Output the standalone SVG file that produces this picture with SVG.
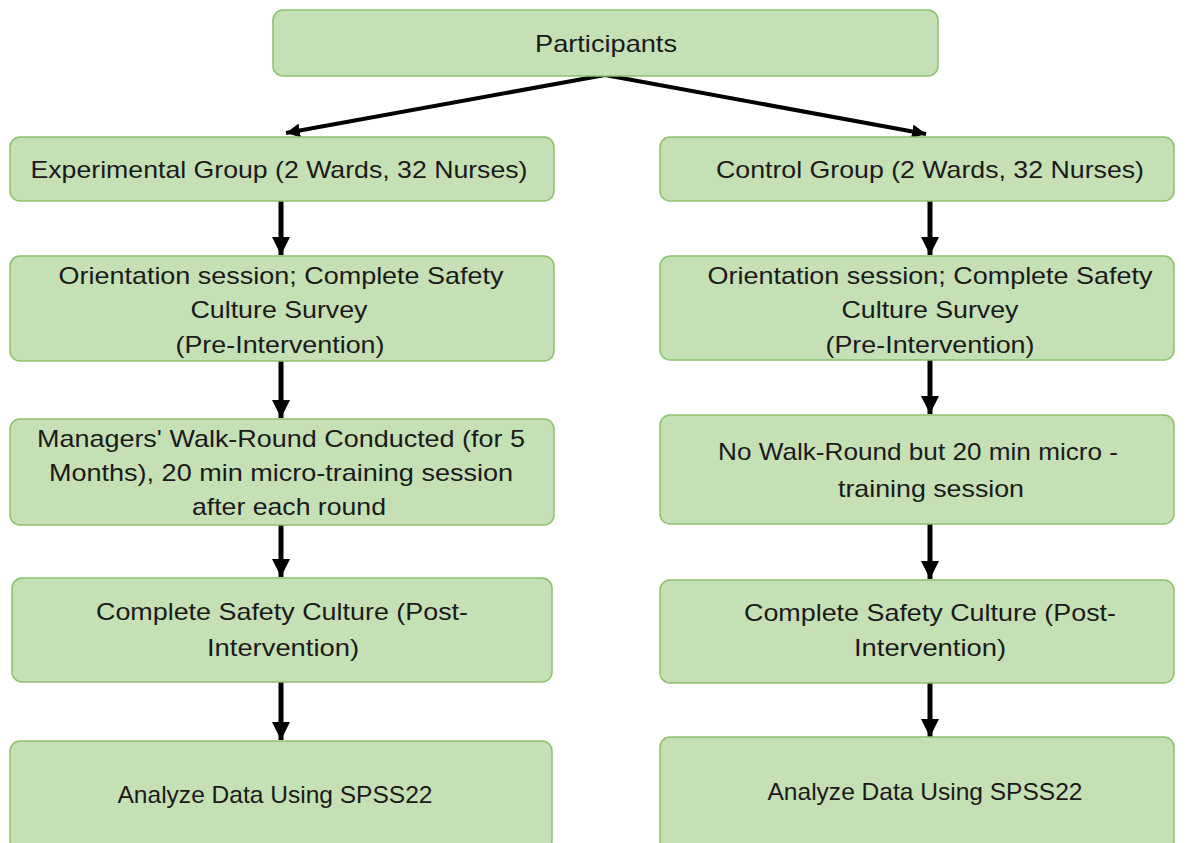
<svg xmlns="http://www.w3.org/2000/svg" width="1201" height="843" viewBox="0 0 1201 843">
<style>
.box{fill:#c5e0b4;stroke:#8cc06c;stroke-width:1.5}
.t{font-family:"Liberation Sans",Arial,sans-serif;font-size:24px;fill:#1a1a1a;text-anchor:middle}
.c{stroke:#000;stroke-width:5;fill:none}
.d{stroke:#000;stroke-width:4;fill:none}
</style>
<defs>
<marker id="ah" markerUnits="userSpaceOnUse" markerWidth="20" markerHeight="18" refX="18" refY="9" orient="auto">
<path d="M0,0 L18,9 L0,18 Z" fill="#000"/>
</marker>
<marker id="ah2" markerUnits="userSpaceOnUse" markerWidth="16" markerHeight="14" refX="14" refY="7" orient="auto">
<path d="M0,0 L14,7 L0,14 Z" fill="#000"/>
</marker>
</defs>
<rect width="1201" height="843" fill="#fff"/>
<g id="connectors">
<line class="d" x1="605" y1="75" x2="286" y2="133" marker-end="url(#ah2)"/>
<line class="d" x1="605" y1="75" x2="926" y2="134" marker-end="url(#ah2)"/>
<line class="c" x1="281" y1="201" x2="281" y2="255" marker-end="url(#ah)"/>
<line class="c" x1="930" y1="201" x2="930" y2="255" marker-end="url(#ah)"/>
<line class="c" x1="281" y1="361" x2="281" y2="418" marker-end="url(#ah)"/>
<line class="c" x1="930" y1="360" x2="930" y2="414" marker-end="url(#ah)"/>
<line class="c" x1="281" y1="525" x2="281" y2="577" marker-end="url(#ah)"/>
<line class="c" x1="930" y1="524" x2="930" y2="579" marker-end="url(#ah)"/>
<line class="c" x1="281" y1="682" x2="281" y2="740" marker-end="url(#ah)"/>
<line class="c" x1="930" y1="683" x2="930" y2="737" marker-end="url(#ah)"/>
</g>
<g id="participants">
<rect class="box" x="273" y="10" width="665" height="66" rx="10"/>
<text class="t" x="606" y="52" textLength="142" lengthAdjust="spacingAndGlyphs">Participants</text>
</g>
<g id="exp-group">
<rect class="box" x="10" y="137" width="544" height="64" rx="10"/>
<text class="t" x="279" y="178" textLength="497" lengthAdjust="spacingAndGlyphs">Experimental Group (2 Wards, 32 Nurses)</text>
</g>
<g id="ctrl-group">
<rect class="box" x="660" y="137" width="514" height="64" rx="10"/>
<text class="t" x="930" y="178" textLength="428" lengthAdjust="spacingAndGlyphs">Control Group (2 Wards, 32 Nurses)</text>
</g>
<g id="exp-orientation">
<rect class="box" x="10" y="256" width="544" height="105" rx="10"/>
<text class="t" x="281" y="284" textLength="445" lengthAdjust="spacingAndGlyphs">Orientation session; Complete Safety</text>
<text class="t" x="279" y="318" textLength="177" lengthAdjust="spacingAndGlyphs">Culture Survey</text>
<text class="t" x="280" y="353" textLength="209" lengthAdjust="spacingAndGlyphs">(Pre-Intervention)</text>
</g>
<g id="ctrl-orientation">
<rect class="box" x="660" y="256" width="514" height="104" rx="10"/>
<text class="t" x="930" y="284" textLength="445" lengthAdjust="spacingAndGlyphs">Orientation session; Complete Safety</text>
<text class="t" x="930" y="318" textLength="177" lengthAdjust="spacingAndGlyphs">Culture Survey</text>
<text class="t" x="930" y="353" textLength="209" lengthAdjust="spacingAndGlyphs">(Pre-Intervention)</text>
</g>
<g id="exp-walkround">
<rect class="box" x="10" y="419" width="544" height="106" rx="10"/>
<text class="t" x="281" y="447" textLength="488" lengthAdjust="spacingAndGlyphs">Managers' Walk-Round Conducted (for 5</text>
<text class="t" x="281" y="481" textLength="464" lengthAdjust="spacingAndGlyphs">Months), 20 min micro-training session</text>
<text class="t" x="289" y="515" textLength="194" lengthAdjust="spacingAndGlyphs">after each round</text>
</g>
<g id="ctrl-training">
<rect class="box" x="660" y="415" width="514" height="109" rx="10"/>
<text class="t" x="918" y="460" textLength="400" lengthAdjust="spacingAndGlyphs">No Walk-Round but 20 min micro -</text>
<text class="t" x="931" y="497" textLength="186" lengthAdjust="spacingAndGlyphs">training session</text>
</g>
<g id="exp-post">
<rect class="box" x="12" y="578" width="540" height="104" rx="10"/>
<text class="t" x="282" y="620" textLength="372" lengthAdjust="spacingAndGlyphs">Complete Safety Culture (Post-</text>
<text class="t" x="283" y="656" textLength="152" lengthAdjust="spacingAndGlyphs">Intervention)</text>
</g>
<g id="ctrl-post">
<rect class="box" x="660" y="580" width="514" height="103" rx="10"/>
<text class="t" x="930" y="621" textLength="372" lengthAdjust="spacingAndGlyphs">Complete Safety Culture (Post-</text>
<text class="t" x="930" y="656" textLength="152" lengthAdjust="spacingAndGlyphs">Intervention)</text>
</g>
<g id="exp-analyze">
<rect class="box" x="10" y="741" width="542" height="110" rx="10"/>
<text class="t" x="275" y="803" textLength="315" lengthAdjust="spacingAndGlyphs">Analyze Data Using SPSS22</text>
</g>
<g id="ctrl-analyze">
<rect class="box" x="660" y="737" width="514" height="114" rx="10"/>
<text class="t" x="925" y="800" textLength="315" lengthAdjust="spacingAndGlyphs">Analyze Data Using SPSS22</text>
</g>
</svg>
